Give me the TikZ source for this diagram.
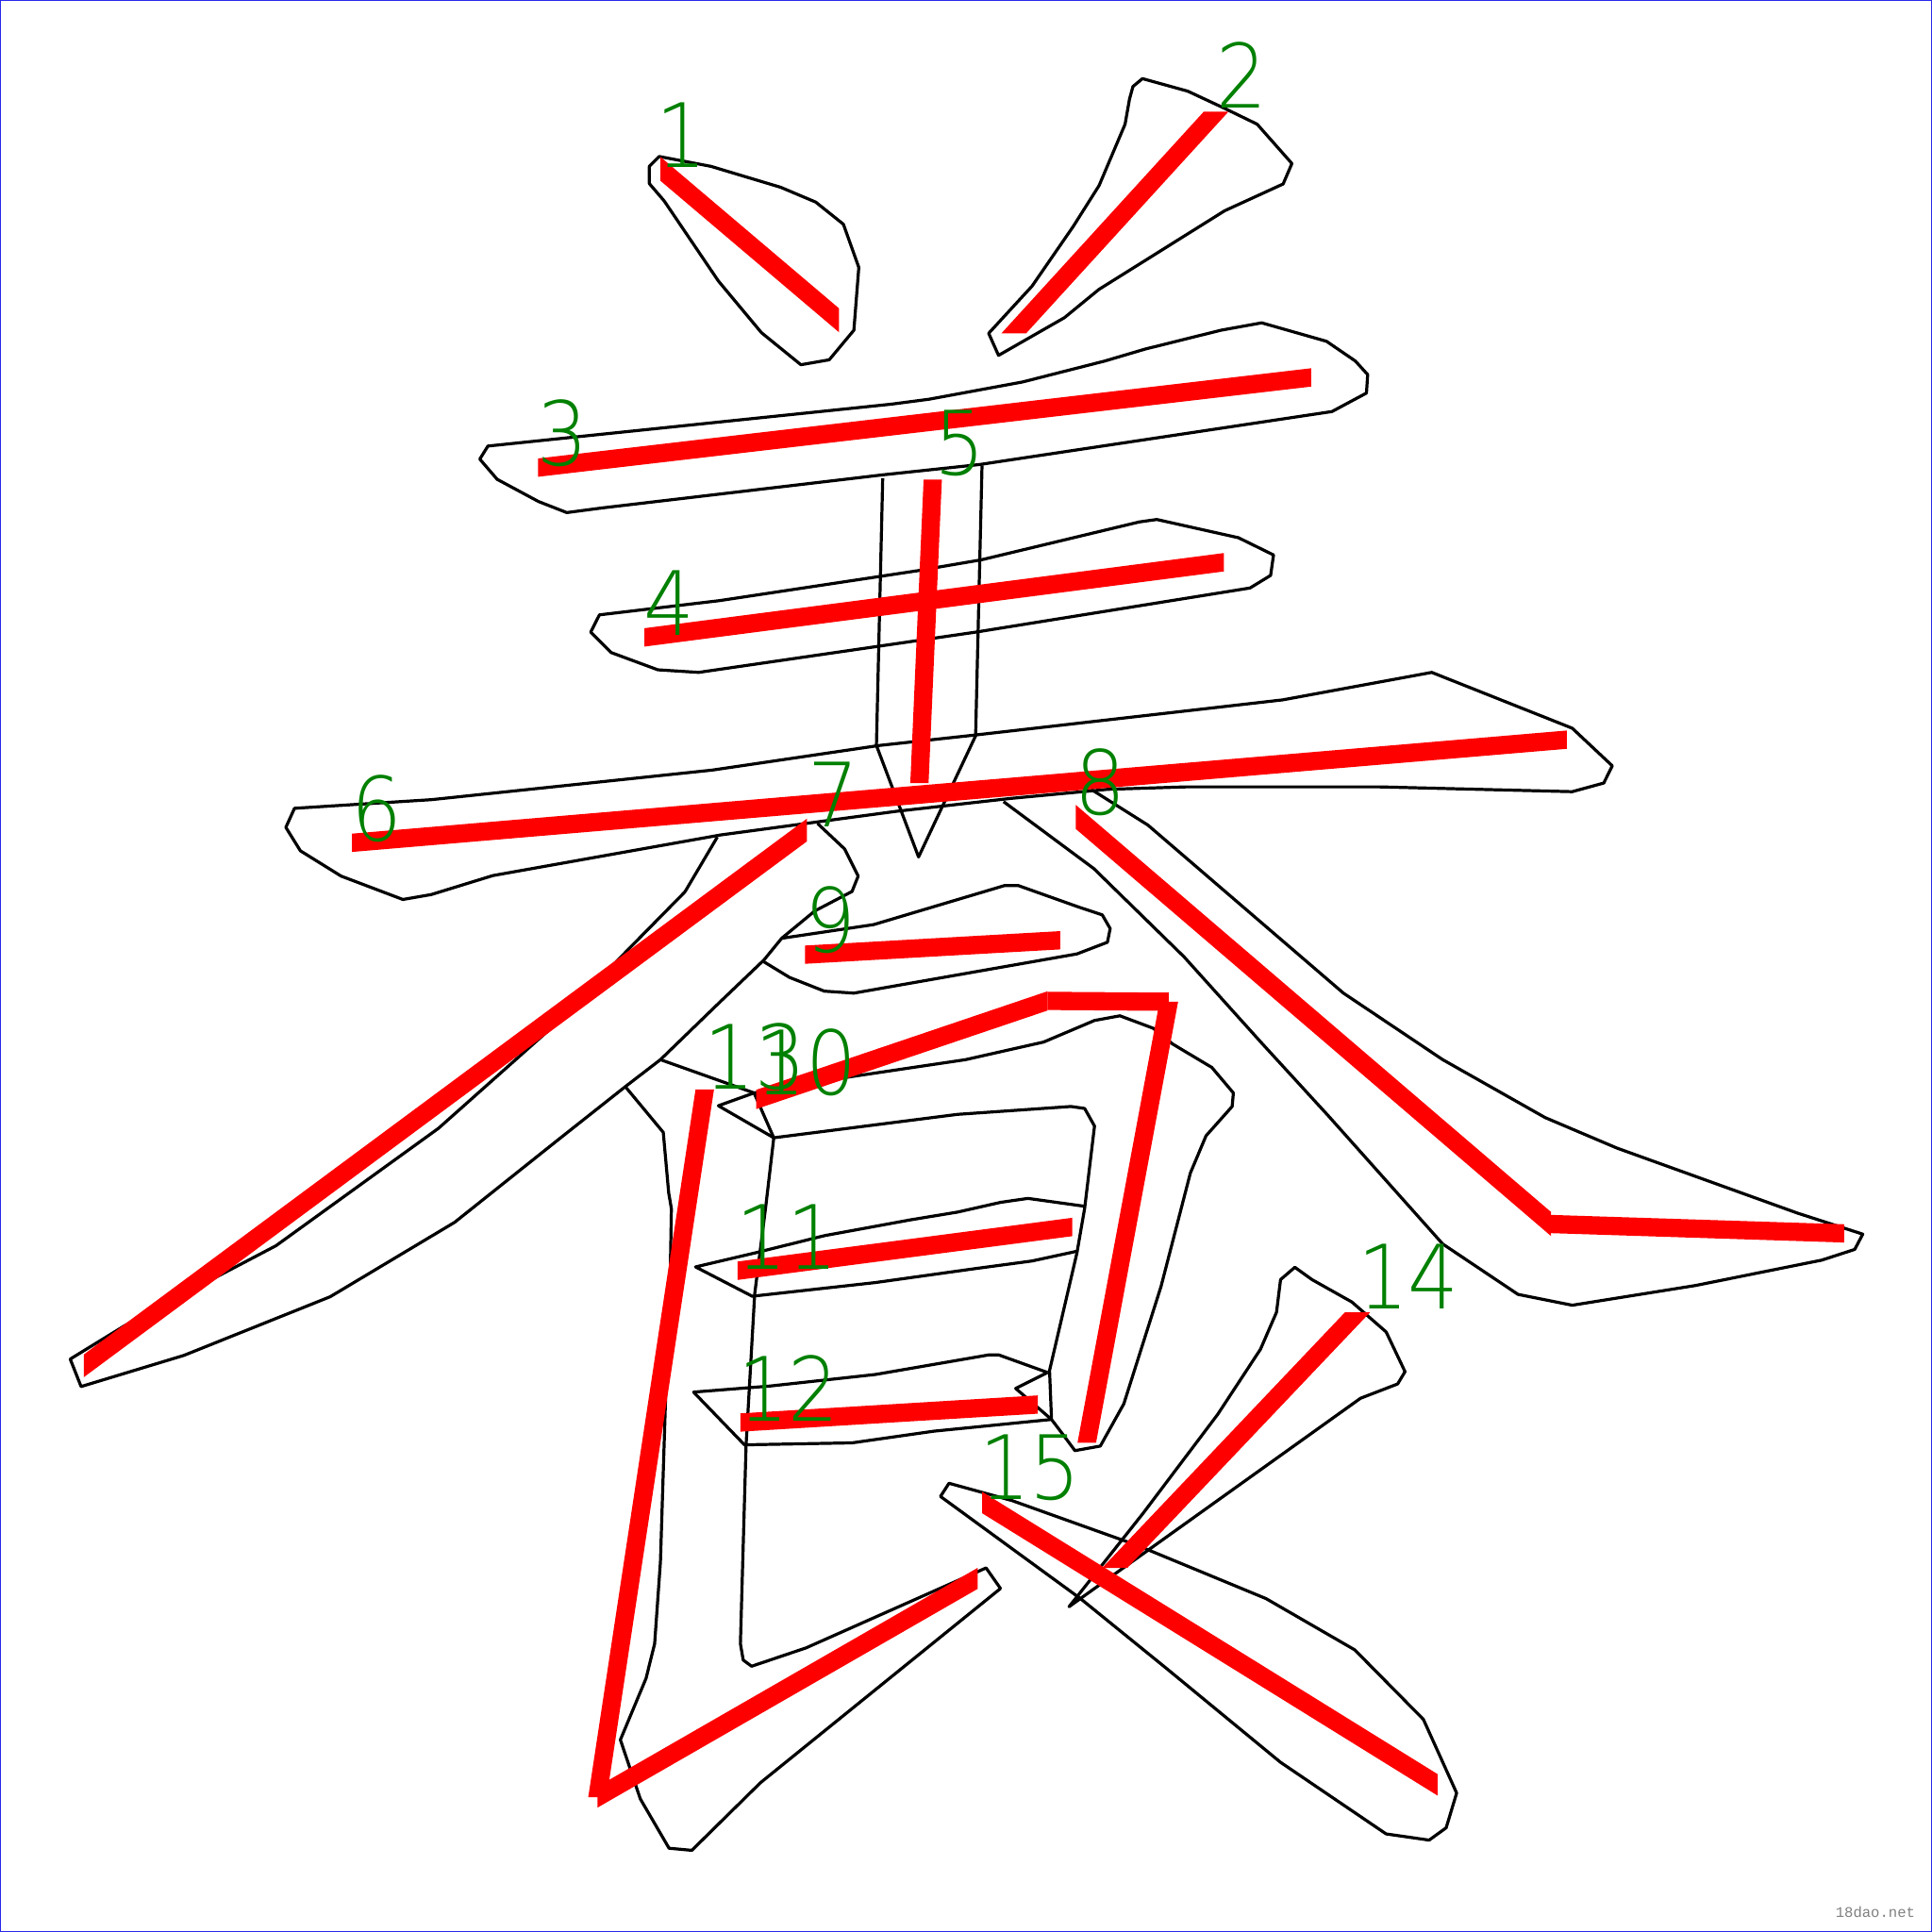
\documentclass[tikz,border=0pt]{standalone}
\usepackage{fontspec}
\setmainfont{Liberation Sans}
\newfontfamily\numfont[FakeStretch=0.9]{DejaVu Sans ExtraLight}
\newfontfamily\wmfont{Liberation Mono}
\usepackage{tikz}
\definecolor{numgreen}{RGB}{0,128,0}
\definecolor{framecol}{RGB}{40,40,235}
\newcommand{\redseg}[4]{%
  \pgfmathsetmacro{\rsdx}{#3-#1}\pgfmathsetmacro{\rsdy}{#4-#2}%
  \pgfmathsetmacro{\rslen}{veclen(\rsdx,\rsdy)}%
  \pgfmathtruncatemacro{\rsflat}{abs(\rsdx)>=abs(\rsdy)}%
  \ifnum\rsflat=1
    \pgfmathsetmacro{\rsoff}{7.4*\rslen/abs(\rsdx)}%
    \fill[red] (#1,#2-\rsoff) -- (#3,#4-\rsoff) -- (#3,#4+\rsoff) -- (#1,#2+\rsoff) -- cycle;
  \else
    \pgfmathsetmacro{\rsoff}{7.4*\rslen/abs(\rsdy)}%
    \fill[red] (#1-\rsoff,#2) -- (#3-\rsoff,#4) -- (#3+\rsoff,#4) -- (#1+\rsoff,#2) -- cycle;
  \fi}

\begin{document}
\begin{tikzpicture}[x=0.1mm,y=-0.1mm,
        outline/.style={draw=black,line width=0.7pt,line join=round},
        num/.style={text=numgreen,inner sep=0pt,font=\numfont\fontsize{20.5}{20.5}\selectfont}]
                \useasboundingbox (0,0) rectangle (1568,1568);
                \fill[white] (0,0) rectangle (1568,1568);
                \draw[framecol, line width=0.3pt] (0.5,0.5) rectangle (1567.5,1567.5);
                \draw[outline] (535,127) -- (527,135) -- (527,149) -- (539,163) -- (583,228) -- (618,270) -- (650,296) -- (673,292) -- (693,268) -- (697,217) -- (684.5,182) -- (662,164) -- (633.6,152) -- (577,135) -- cycle;
                \draw[outline] (927.2,63.8) -- (919.5,70.2) -- (916.7,80.4) -- (913.1,100.8) -- (892,150.6) -- (871,183.8) -- (837.6,232.2) -- (802.4,270.5) -- (810.4,288.4) -- (863.9,257.8) -- (892,234.8) -- (994,171) -- (1041.4,149.3) -- (1048.5,132.7) -- (1020.3,100.8) -- (994,88) -- (964,74) -- cycle;
                \draw[outline] (396,362) -- (723.5,328) -- (754,324) -- (829.9,310) -- (896.6,293) -- (929.4,283.3) -- (990.9,268) -- (1024,262) -- (1076.6,277) -- (1100,293) -- (1110,304) -- (1109,319) -- (1081,334) -- (795,377) -- (716.2,385.4) -- (488.9,412.2) -- (460,416) -- (437,407) -- (403.5,389) -- (389.4,372.6) -- cycle;
                \draw[outline] (486.5,499) -- (583.6,487.5) -- (744.6,463.2) -- (796.6,454.3) -- (924.6,423.6) -- (938.8,421.6) -- (1005.1,436.4) -- (1033.6,450.4) -- (1031.2,467) -- (1014.5,477.2) -- (792,513) -- (567,545.7) -- (533.9,543.6) -- (496,529.6) -- (479.4,513) -- cycle;
                \draw[outline] (716.4,388) -- (711.3,605) -- (745.5,695.5) -- (791.8,597.2) -- (797,377.7);
                \draw[outline] (239,656) -- (350,649) -- (578,625) -- (713.6,605) -- (791.7,596.5) -- (1041,568) -- (1162,545.7) -- (1276,591) -- (1308.5,621.5) -- (1301.6,635.5) -- (1276,642.5) -- (1119,638.6) -- (963,638.6) -- (899,640.6) -- (820,648) -- (727,658.5) -- (585,677.6) -- (400,710.6) -- (350,726) -- (327,730) -- (276.8,711) -- (243.8,690.5) -- (232,671.5) -- cycle;
                \draw[outline] (582.2,679.3) -- (555.9,723.8) -- (507.5,773) -- (450.3,831.7) -- (355.9,915.7) -- (224,1011) -- (175.6,1036.4) -- (101,1076) -- (57,1103) -- (65.8,1125.3) -- (149.3,1100) -- (268,1052.4) -- (369,992) -- (452.5,925.4) -- (507.5,881.9) -- (536,860) -- (583.6,813.9) -- (620.1,779) -- (634.4,761.5) -- (661.3,739.3) -- (691.5,723.5) -- (696.5,711) -- (685.5,689) -- (663.5,668.3);
                \draw[outline] (814.5,650.6) -- (887.7,704.9) -- (961,776.6) -- (1024.4,847) -- (1078,905.5) -- (1170.9,1009.6) -- (1232,1050.5) -- (1276,1059.3) -- (1376,1043.3) -- (1478.5,1022.7) -- (1505.3,1014) -- (1511.8,1001.6) -- (1459,984.6) -- (1312.4,931.8) -- (1254,907) -- (1170.9,860) -- (1090.3,806) -- (931.6,669.6) -- (885.2,640.4);
                \draw[outline] (634.4,761.5) -- (709,750.4) -- (815.3,718.7) -- (826.4,718.7) -- (875.6,736.2) -- (894.6,742.5) -- (901,753.6) -- (898.8,764.7) -- (874,774.2) -- (693,806) -- (669,804.4) -- (640.7,793.2) -- (620,780.6);
                \draw[outline] (612,887) -- (677.2,875.8) -- (783.6,860) -- (847,845.7) -- (888.3,828.2) -- (908.9,824.4) -- (935.9,834.5) -- (951.7,847.3) -- (983.5,866.3) -- (1001,887) -- (1000,898) -- (978.8,921.8) -- (966.1,952) -- (942.3,1044) -- (912.1,1139.3) -- (893,1173.6) -- (872.4,1177.3) -- (863,1164.6) -- (853.4,1152) -- (851.8,1112.3) -- (874,1017) -- (880.3,980.6) -- (888.3,913.9) -- (880.3,899.6) -- (869.2,898) -- (777.1,904.4) -- (628,923.4);
                \draw[outline] (880.3,979) -- (834.3,972.6) -- (812.1,975.8) -- (777.2,983.7) -- (739,990) -- (669.3,1002.8) -- (612.1,1017) -- (564.5,1028.2) -- (610.5,1052) -- (710.5,1040.9) -- (789.9,1029.8) -- (837.5,1023.4) -- (874,1015.5);
                \draw[outline] (850.2,1113.9) -- (810.5,1099.6) -- (802.6,1099.6) -- (710.5,1115.5) -- (624.8,1124.9) -- (562.9,1129.8) -- (604.2,1172.6) -- (691.5,1171) -- (758.1,1161.5) -- (853.4,1152);
                \draw[outline] (850.2,1113.9) -- (824.3,1126.8) -- (853.4,1152);
                \draw[outline] (507.5,881.9) -- (538.3,919) -- (542.7,968) -- (544.9,981) -- (544,1031.7) -- (540.5,1124.8) -- (536,1267.6) -- (531.3,1334) -- (524.3,1362.2) -- (503.5,1412) -- (519.7,1460) -- (543,1500) -- (561.5,1501.7) -- (617.1,1446.9) -- (812,1289.2) -- (800.3,1272.5) -- (654.2,1337.4) -- (610,1352.3) -- (603.2,1347.3) -- (600.9,1334) -- (605.5,1173) -- (612.5,1050.2) -- (621.7,977.4) -- (628,923.4) -- (612,887) -- (536,860);
                \draw[outline] (612,887) -- (583,897.4) -- (628,923.4);
                \draw[outline] (1050.9,1028.5) -- (1039.3,1038.5) -- (1036,1065) -- (1023,1095) -- (988.2,1148) -- (928,1227.8) -- (867.6,1304) -- (1104.2,1134.8) -- (1134.3,1123.2) -- (1140.3,1113.2) -- (1125,1081) -- (1097.2,1056.7) -- (1064.8,1038.5) -- cycle;
                \draw[outline] (770.2,1203.8) -- (763.3,1214.5) -- (876.9,1297.4) -- (946.5,1353.9) -- (1039.2,1430.2) -- (1125,1488.4) -- (1159.9,1493.4) -- (1173.7,1483.4) -- (1182.2,1455.2) -- (1155.2,1395.4) -- (1099.5,1339) -- (1027.5,1297.4) -- (923.3,1254.3) -- (821.2,1217.8) -- cycle;
                \redseg{536}{137}{681}{260}
                \redseg{987}{90.6}{822.8}{270.5}
                \redseg{436.7}{379.5}{1064.2}{306.3}
                \redseg{523}{517.3}{993.3}{456.3}
                \redseg{757}{389.2}{746.2}{635.5}
                \redseg{285.7}{684}{1271.6}{600.3}
                \redseg{654.8}{673.7}{68}{1108.5}
                \redseg{873}{662.9}{1258.8}{993.4}
                \redseg{1258.8}{993.4}{1496.6}{1001}
                \redseg{653.4}{774.8}{860.4}{763.1}
                \redseg{613.7}{892.3}{850.2}{812.3}
                \redseg{850.2}{812.3}{948.6}{813}
                \redseg{948.6}{813}{882}{1171}
                \redseg{598.7}{1031.3}{870.2}{995.8}
                \redseg{601}{1154.5}{842.2}{1139.9}
                \redseg{572}{884.1}{484.9}{1458.5}
                \redseg{484.9}{1458.5}{793.4}{1281}
                \redseg{1101.8}{1065}{904.7}{1272.5}
                \redseg{797.1}{1219.4}{1166.8}{1448.6}
                \node[num] (num_1) at (553,110) {1};
                \node[num] (num_2) at (1008,61) {2};
                \node[num] (num_3) at (456.6,351.5) {3};
                \node[num] (num_4) at (543.3,489) {4};
                \node[num] (num_5) at (778.7,360) {5};
                \node[num] (num_6) at (305.6,656) {6};
                \node[num] (num_7) at (676,645) {7};
                \node[num] (num_8) at (893,635) {8};
                \node[num] (num_9) at (674,747) {9};
                \node[num] (num_13) at (613,857.5) {13};
                \node[num] (num_10) at (654,862) {10};
                \node[num] (num_11) at (639,1003.5) {11};
                \node[num] (num_12) at (640,1126.5) {12};
                \node[num] (num_14) at (1143,1036) {14};
                \node[num] (num_15) at (836,1191) {15};
                \node[text=gray, inner sep=0pt, font=\wmfont\fontsize{3.4}{3.4}\selectfont] (site) at (1522,1552) {18dao.net};
\end{tikzpicture}
\end{document}
